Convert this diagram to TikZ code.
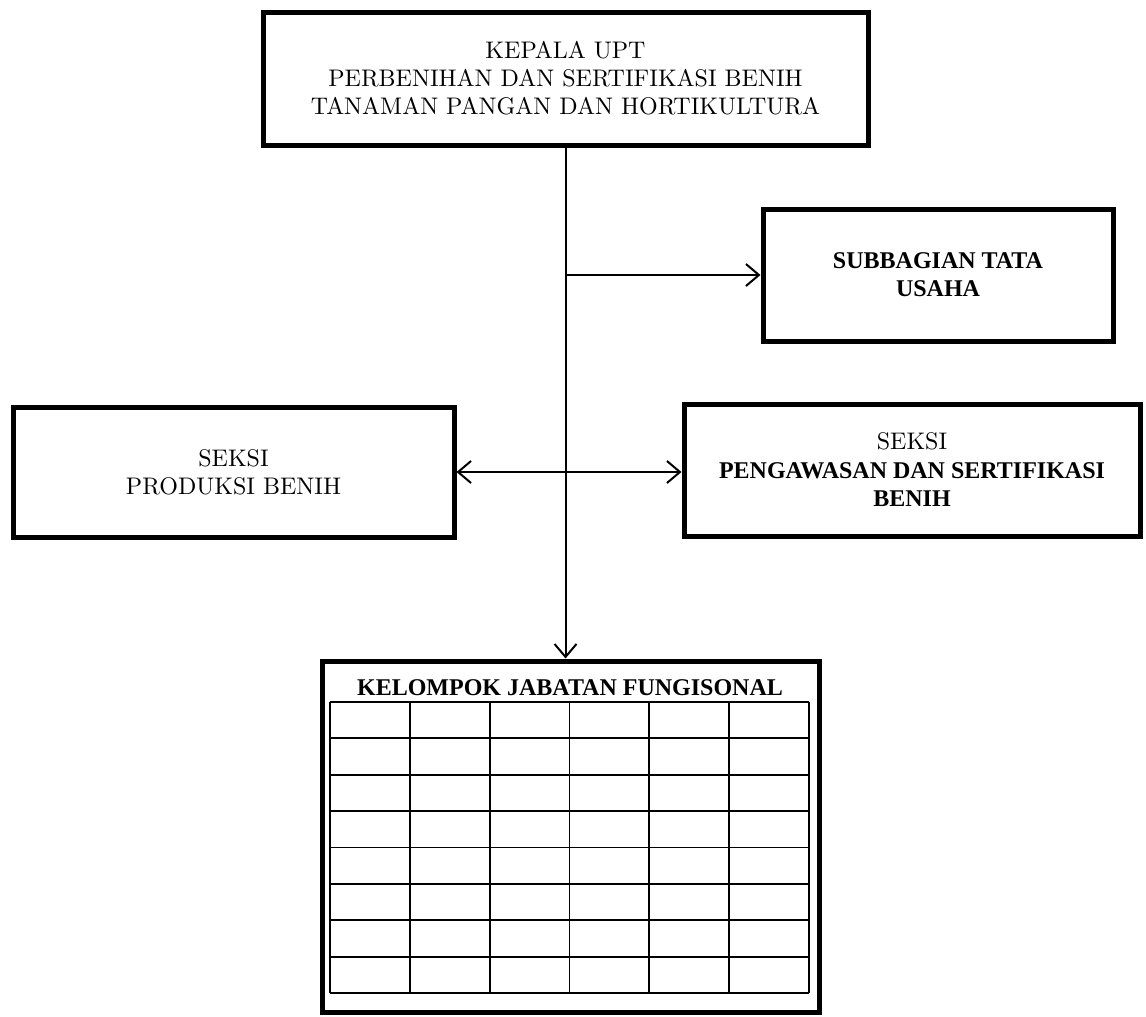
\documentclass[tikz,border=0pt]{standalone}
\usepackage{fontspec}
\setmainfont{lmroman10-regular.otf}
\newfontfamily\tnr{Liberation Serif}
\usetikzlibrary{arrows.meta}
\begin{document}
\begin{tikzpicture}[x=1pt,y=-1pt,
  box/.style={draw, line width=5pt, inner sep=0pt, align=center},
  reg/.style={font=\fontsize{24}{28}\selectfont},
  conn/.style={line width=2pt, -{Straight Barb[length=13pt,width=22pt]}},
  conn2/.style={line width=2pt, {Straight Barb[length=13pt,width=22pt]}-{Straight Barb[length=13pt,width=22pt]}},
  gridline/.style={line width=1.8pt}
]
\useasboundingbox (0,0) rectangle (1146,1017);
\fill[white] (0,0) rectangle (1146,1017);

\node[box, reg, minimum width=605pt, minimum height=133pt] (top) at (565.5,78.5)
  {KEPALA UPT\\PERBENIHAN DAN SERTIFIKASI BENIH\\TANAMAN PANGAN DAN HORTIKULTURA};

\node[box, font=\tnr\bfseries\fontsize{24}{28}\selectfont, minimum width=350pt, minimum height=132pt] (sub) at (938,275)
  {SUBBAGIAN TATA\\USAHA};

\node[box, reg, minimum width=441pt, minimum height=130pt] (prod) at (233.5,472)
  {SEKSI\\PRODUKSI BENIH};

\node[box, font=\fontsize{24}{28.5}\selectfont, minimum width=456pt, minimum height=132pt] (peng) at (912,470)
  {SEKSI\\{\tnr\bfseries PENGAWASAN DAN SERTIFIKASI}\\{\tnr\bfseries BENIH}};

\node[box, minimum width=497pt, minimum height=351pt] (tbl) at (570.5,836.5) {};
\node[font=\tnr\bfseries\fontsize{24}{28}\selectfont, anchor=base, inner sep=0pt] (ttl) at (570,695) {KELOMPOK JABATAN FUNGISONAL};

% grid
\foreach \i in {0,...,8} {
  \draw[gridline] (330,{702+\i*36.375}) -- (809,{702+\i*36.375});
}
\foreach \j in {0,...,6} {
  \draw[gridline] ({330+\j*79.83},702) -- ({330+\j*79.83},993);
}

% connectors
\coordinate (j1) at (top.south |- sub.west);
\draw[conn] (top.south) -- (top.south |- tbl.north);
\draw[conn] (j1) -- (sub.west);
\draw[conn2] (prod.east) -- (peng.west |- prod.east);
\end{tikzpicture}
\end{document}
